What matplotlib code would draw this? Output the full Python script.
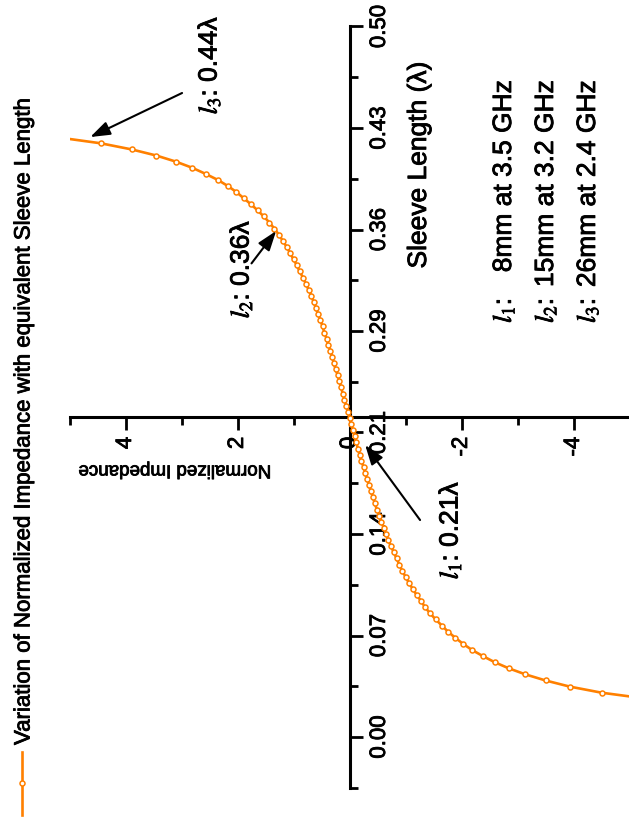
import matplotlib
matplotlib.use("Agg")
import matplotlib.pyplot as plt
import matplotlib.patheffects as pe
from matplotlib.lines import Line2D
from matplotlib.ticker import FixedLocator, FixedFormatter

plt.rcParams['font.family'] = ['Liberation Sans', 'DejaVu Sans']
plt.rcParams['mathtext.fontset'] = 'stix'

# Sleeve length (in wavelengths) and the normalized impedance at each sample
sleeve_length = [0.0269, 0.0312, 0.0355, 0.0398, 0.0441, 0.0484, 0.0527, 0.0570, 0.0612, 0.0655,
                 0.0698, 0.0741, 0.0784, 0.0827, 0.0870, 0.0913, 0.0956, 0.0999, 0.1042, 0.1085,
                 0.1128, 0.1171, 0.1214, 0.1257, 0.1300, 0.1343, 0.1386, 0.1429, 0.1472, 0.1515,
                 0.1558, 0.1601, 0.1644, 0.1687, 0.1729, 0.1772, 0.1815, 0.1858, 0.1901, 0.1944,
                 0.1987, 0.2030, 0.2073, 0.2116, 0.2159, 0.2202, 0.2245, 0.2288, 0.2331, 0.2374,
                 0.2417, 0.2460, 0.2503, 0.2546, 0.2589, 0.2632, 0.2675, 0.2718, 0.2761, 0.2804,
                 0.2846, 0.2889, 0.2932, 0.2975, 0.3018, 0.3061, 0.3104, 0.3147, 0.3190, 0.3233,
                 0.3276, 0.3319, 0.3362, 0.3405, 0.3448, 0.3491, 0.3534, 0.3577, 0.3620, 0.3663,
                 0.3706, 0.3749, 0.3792, 0.3835, 0.3877, 0.3920, 0.3963, 0.4006, 0.4049, 0.4092,
                 0.4135, 0.4178, 0.4221]
impedance = [-5.32, -4.50, -3.93, -3.50, -3.14, -2.84, -2.59, -2.38, -2.19, -2.03,
             -1.89, -1.76, -1.65, -1.54, -1.44, -1.35, -1.28, -1.20, -1.13, -1.06,
             -1.00, -0.94, -0.89, -0.84, -0.79, -0.74, -0.69, -0.65, -0.61, -0.57,
             -0.53, -0.49, -0.45, -0.42, -0.38, -0.35, -0.31, -0.28, -0.25, -0.21,
             -0.18, -0.15, -0.12, -0.09, -0.06, -0.03, 0.00, 0.03, 0.06, 0.09,
             0.12, 0.15, 0.18, 0.21, 0.25, 0.28, 0.31, 0.34, 0.38, 0.41,
             0.45, 0.48, 0.52, 0.56, 0.60, 0.64, 0.68, 0.73, 0.78, 0.83,
             0.89, 0.94, 1.00, 1.06, 1.12, 1.19, 1.26, 1.34, 1.43, 1.53,
             1.64, 1.76, 1.89, 2.02, 2.17, 2.35, 2.57, 2.81, 3.10, 3.45,
             3.89, 4.44, 5.23]

length_ticks = [0.0, 0.0714, 0.1429, 0.2143, 0.2857, 0.3571, 0.4286, 0.5]
length_labels = ['0.00', '0.07', '0.14', '0.21', '0.29', '0.36', '0.43', '0.50']
length_minor = [-0.0357, 0.0357, 0.1071, 0.1786, 0.25, 0.3214, 0.3929, 0.4643]
impedance_ticks = [4, 2, 0, -2, -4]
impedance_labels = ['4', '2', '0', '-2', '-4']
impedance_minor = [5, 3, 1, -1, -3, -5]

series_label = 'Variation of Normalized Impedance with equivalent Sleeve Length'
sleeve_notes = [(r'$l_1$:', '8mm at 3.5 GHz'),
                (r'$l_2$:', '15mm at 3.2 GHz'),
                (r'$l_3$:', '26mm at 2.4 GHz')]

ORANGE = '#FF8000'
W, H = 629, 827
HEAVY = [pe.withStroke(linewidth=0.6, foreground='black')]


def fx(px):
    return px / W


def fy(py):
    return 1 - py / H


def label(x, y, s, **kw):
    t = fig.text(fx(x), fy(y), s, **kw)
    t.set_path_effects(HEAVY)
    return t


fig = plt.figure(figsize=(W / 100, H / 100), dpi=100)
ax = fig.add_axes([fx(69.5), fy(787.75), (629.5 - 69.5) / W, (787.75 - 26.5) / H])
ax.set_xlim(5, -5)
ax.set_ylim(-0.0357, 0.5)

ax.plot(impedance, sleeve_length, color=ORANGE, lw=1.9, marker='o', ms=3.6,
        mfc='white', mec=ORANGE, mew=1.1, zorder=3)

# Axes cross at the origin of impedance and at the curve's zero crossing
for side in ('top', 'left'):
    ax.spines[side].set_visible(False)
ax.spines['right'].set_position(('data', 0))
ax.spines['bottom'].set_position(('data', 0.225))
for side in ('right', 'bottom'):
    ax.spines[side].set_linewidth(2.2)

ax.yaxis.tick_right()
ax.yaxis.set_major_locator(FixedLocator(length_ticks))
ax.yaxis.set_major_formatter(FixedFormatter(length_labels))
ax.yaxis.set_minor_locator(FixedLocator(length_minor))
ax.xaxis.set_major_locator(FixedLocator(impedance_ticks))
ax.xaxis.set_major_formatter(FixedFormatter(impedance_labels))
ax.xaxis.set_minor_locator(FixedLocator(impedance_minor))

ax.tick_params(which='major', direction='out', length=9, width=2, labelsize=16, pad=5)
ax.tick_params(which='minor', direction='out', length=5.5, width=2)
ax.tick_params(axis='both', labelrotation=90)
for lbl in ax.get_yticklabels():
    lbl.set_va('center')
for lbl in ax.get_yticklabels() + ax.get_xticklabels():
    lbl.set_path_effects(HEAVY)

label(419, 165, 'Sleeve Length (λ)', rotation=90, fontsize=19, ha='center', va='center')
label(175, 470, 'Normalized Impedance', rotation=180, fontsize=13.5, ha='center', va='center')

# Annotated sleeve lengths
label(209, 65, r'$l_3$: 0.44λ', rotation=90, fontsize=19, ha='center', va='center')
label(241, 269, r'$l_2$: 0.36λ', rotation=90, fontsize=19, ha='center', va='center')
label(450, 530, r'$l_1$: 0.21λ', rotation=90, fontsize=19, ha='center', va='center')

arrow = dict(arrowstyle='-|>,head_length=0.8,head_width=0.28', color='black', lw=1.5,
             shrinkA=0, shrinkB=0, mutation_scale=15)
ax.annotate('', xy=(4.63, 0.4222), xytext=(2.99, 0.4532), arrowprops=arrow)
ax.annotate('', xy=(1.31, 0.3561), xytext=(1.75, 0.3333), arrowprops=arrow)
ax.annotate('', xy=(-0.28, 0.2055), xytext=(-1.26, 0.1527), arrowprops=arrow)

# Sleeve dimensions and their frequencies
for (tag, desc), xb in zip(sleeve_notes, (511, 553, 595)):
    label(xb, 323, tag, rotation=90, rotation_mode='anchor', fontsize=19,
          ha='left', va='baseline')
    label(xb, 80, desc, rotation=90, rotation_mode='anchor', fontsize=19,
          ha='right', va='baseline')

# Legend entry
fig.add_artist(Line2D([fx(22), fx(22)], [fy(752), fy(815)], color=ORANGE, lw=1.9,
                      transform=fig.transFigure))
fig.add_artist(Line2D([fx(22)], [fy(783)], color=ORANGE, marker='o', ms=3.6,
                      mfc='white', mec=ORANGE, mew=1.1, transform=fig.transFigure))
label(24, 745, series_label, rotation=90, rotation_mode='anchor',
      fontsize=16, ha='left', va='center')

fig.savefig('out.png', dpi=100)
